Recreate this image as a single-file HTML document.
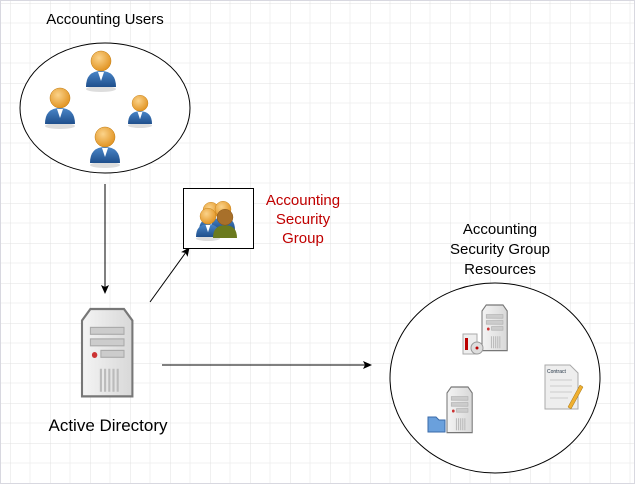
<!DOCTYPE html>
<html><head><style>
body{margin:0;background:#fff}
svg{display:block;font-family:"Liberation Sans",Arial,sans-serif}
</style></head><body>
<svg width="635" height="484" viewBox="0 0 635 484" xmlns="http://www.w3.org/2000/svg">
<defs>
<pattern id="g" width="40" height="40" patternUnits="userSpaceOnUse" x="10" y="3">
<path d="M20 0V40M0 20H40" stroke="#f0f0f0" stroke-width="1"/>
<path d="M0 0V40M0 0H40" stroke="#e0e0e0" stroke-width="1"/>
</pattern>
<marker id="a" markerWidth="10" markerHeight="10" refX="8" refY="5" orient="auto" markerUnits="userSpaceOnUse">
<path d="M0 1L9 5L0 9L2 5Z" fill="#000"/></marker>
<radialGradient id="head" cx="0.4" cy="0.35" r="0.7"><stop offset="0" stop-color="#fbd38a"/><stop offset="1" stop-color="#e0901c"/></radialGradient>
<linearGradient id="body" x1="0" y1="0" x2="0" y2="1"><stop offset="0" stop-color="#4a86c8"/><stop offset="1" stop-color="#1f4f8c"/></linearGradient>
<linearGradient id="srv" x1="0" y1="0" x2="1" y2="0"><stop offset="0" stop-color="#f4f4f4"/><stop offset="1" stop-color="#d8d8d8"/></linearGradient>
<g id="user">
<ellipse cx="0" cy="22" rx="15" ry="3" fill="#bbb" opacity="0.5"/>
<path d="M-15 20 Q-15 4 0 4 Q15 4 15 20 Z" fill="url(#body)"/>
<path d="M-3 5 L0 14 L3 5Z" fill="#fff"/>
<circle cx="0" cy="-6" r="10" fill="url(#head)" stroke="#c07a10" stroke-width="0.5"/>
</g>
<g id="server">
<path d="M4 0H20L24 5V38H0V5Z" fill="url(#srv)" stroke="#777" stroke-width="1"/>
<rect x="4" y="8" width="16" height="3" fill="#ccc" stroke="#aaa" stroke-width="0.5"/>
<rect x="4" y="13" width="16" height="3" fill="#ccc" stroke="#aaa" stroke-width="0.5"/>
<circle cx="6" cy="20" r="1.3" fill="#c33"/>
<rect x="9" y="18" width="11" height="3" fill="#ccc" stroke="#aaa" stroke-width="0.5"/>
<path d="M9 26V36M11 26V36M13 26V36M15 26V36M17 26V36" stroke="#bbb"/>
</g>
</defs>
<rect width="635" height="484" fill="url(#g)"/>
<rect x="0.5" y="0.5" width="634" height="483" fill="none" stroke="#d8d8e0"/>

<text x="105" y="24" font-size="15" text-anchor="middle">Accounting Users</text>
<ellipse cx="105" cy="108" rx="85" ry="65" fill="#fff" stroke="#000"/>
<use href="#user" x="101" y="67"/>
<use href="#user" x="60" y="104"/>
<g transform="translate(140 108) scale(0.8)"><use href="#user"/></g>
<use href="#user" x="105" y="143"/>

<line x1="105" y1="184" x2="105" y2="293" stroke="#000" marker-end="url(#a)"/>
<line x1="150" y1="302" x2="189" y2="248" stroke="#000" marker-end="url(#a)"/>
<line x1="162" y1="365" x2="371" y2="365" stroke="#000" marker-end="url(#a)"/>

<rect x="183.5" y="188.5" width="70" height="60" fill="#fff" stroke="#000"/>
<g transform="translate(211 215) scale(0.8)"><use href="#user"/></g>
<g transform="translate(223 214) scale(0.8)"><use href="#user"/></g>
<g transform="translate(208 221) scale(0.8)"><use href="#user"/></g>
<g transform="translate(225 222) scale(0.8)">
<path d="M-15 20 Q-15 4 0 4 Q15 4 15 20 Z" fill="#6b7a1e"/>
<circle cx="0" cy="-6" r="10" fill="#a8702a" stroke="#7a4a10" stroke-width="0.5"/></g>

<g fill="#c00000" font-size="15" text-anchor="middle">
<text x="303" y="205">Accounting</text><text x="303" y="224">Security</text><text x="303" y="243">Group</text></g>

<g transform="translate(82 309) scale(2.1 2.3)"><use href="#server"/></g>
<text x="108" y="431" font-size="17" text-anchor="middle">Active Directory</text>

<g font-size="15" text-anchor="middle">
<text x="500" y="234">Accounting</text><text x="500" y="254">Security Group</text><text x="500" y="274">Resources</text></g>
<ellipse cx="495" cy="378" rx="105" ry="95" fill="#fff" stroke="#000"/>
<g transform="translate(482 305) scale(1.05 1.2)"><use href="#server"/></g>
<rect x="463" y="334" width="14" height="20" fill="#eee" stroke="#aaa"/>
<rect x="465" y="338" width="3" height="12" fill="#b00"/>
<circle cx="477" cy="348" r="6" fill="#ddd" stroke="#999"/><circle cx="477" cy="348" r="1.5" fill="#b00"/>
<g transform="translate(447 387) scale(1.05 1.2)"><use href="#server"/></g>
<path d="M428 432V417H436L439 420H445V432Z" fill="#6aa0dc" stroke="#3a6aa8"/>
<path d="M545 365H570L578 373V409H545Z" fill="#eee" stroke="#aaa"/>
<text x="547" y="373" font-size="5" fill="#234">Contract</text>
<path d="M550 380H572M550 386H572M550 392H572M550 398H568" stroke="#ccc"/>
<path d="M568 407L580 385L583 387L571 409Z" fill="#f0b030" stroke="#a07010" stroke-width="0.5"/>
</svg>
</body></html>
